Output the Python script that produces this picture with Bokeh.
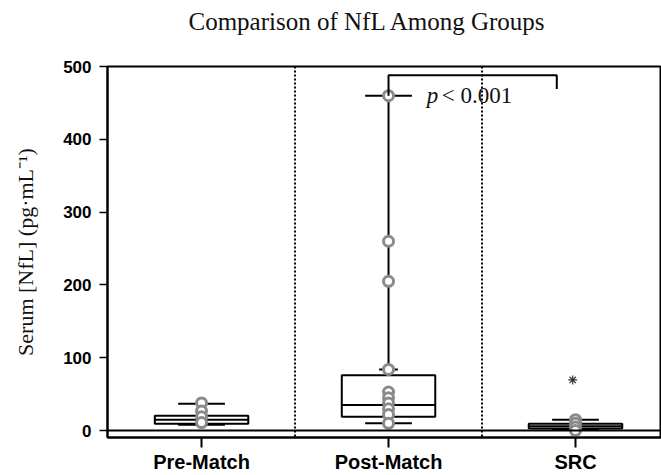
from bokeh.plotting import figure
from bokeh.models import FixedTicker, Span, Range1d, ColumnDataSource, Title
from bokeh.core.properties import value
from bokeh.embed import file_html
from bokeh.resources import INLINE

# ---- data ----
categories = ["Pre-Match", "Post-Match", "SRC"]
cat_pos = [0, 1, 2]
q1 = [9.5, 19, 3]
median = [15, 35, 6]
q3 = [20.5, 76, 9.5]
whisker_low = [8, 10, 1]
whisker_high = [37, 460, 15]

pre_points = [38, 27, 19, 11]
post_points = [460, 260, 205, 84, 53, 45, 38, 30, 22, 10]
src_points = [15, 10, 5, 0]
src_outlier = [69.5]

y_ticks = [0, 100, 200, 300, 400, 500]
p_text = "< 0.001"
bracket_y = 488
bracket_right_drop = 469

title = "Comparison of NfL Among Groups"
y_label = "Serum [NfL] (pg\u00b7mL\u207b\u00b9)"

SERIF = "Liberation Serif"
SANS = "Liberation Sans"

W, H = 661, 475
LEFT, TOP, BOTTOM = 107, 66, 35
p = figure(width=W, height=H, output_backend="svg", toolbar_location=None,
           x_range=Range1d(-0.503, 2.46), y_range=Range1d(-9.5, 500),
           min_border_left=LEFT, min_border_right=0, min_border_top=TOP, min_border_bottom=BOTTOM)

# spacer between frame and title, then the title itself
p.add_layout(Title(text=" ", text_font_size="22px", standoff=0), "above")
p.add_layout(Title(text=title, text_font=SERIF, text_font_size="25px", text_font_style="normal",
                   align="left", offset=81, text_color="#111111"), "above")

p.grid.visible = False
p.background_fill_color = "white"
p.border_fill_color = "white"
p.outline_line_color = "black"
p.outline_line_width = 2

# axes
p.xaxis.ticker = FixedTicker(ticks=cat_pos)
p.xaxis.major_label_overrides = {i: c for i, c in zip(cat_pos, categories)}
p.xaxis.major_label_text_font = SANS
p.xaxis.major_label_text_font_style = "bold"
p.xaxis.major_label_text_font_size = "20px"
p.xaxis.major_label_text_color = "black"
p.xaxis.major_tick_out = 10
p.xaxis.major_tick_in = 0
p.xaxis.minor_tick_line_color = None
p.xaxis.axis_line_width = 2
p.xaxis.major_tick_line_width = 2
p.xaxis.major_label_standoff = 3

p.yaxis.ticker = FixedTicker(ticks=y_ticks)
p.yaxis.major_label_text_font = SANS
p.yaxis.major_label_text_font_style = "bold"
p.yaxis.major_label_text_font_size = "17px"
p.yaxis.major_label_text_color = "black"
p.yaxis.major_tick_out = 8
p.yaxis.major_tick_in = 0
p.yaxis.minor_tick_line_color = None
p.yaxis.axis_line_width = 2
p.yaxis.major_tick_line_width = 1.5
p.yaxis.major_label_standoff = 8
p.yaxis.axis_label = y_label
p.yaxis.axis_label_text_font = SERIF
p.yaxis.axis_label_text_font_size = "22px"
p.yaxis.axis_label_text_font_style = "normal"
p.yaxis.axis_label_text_color = "#111111"
p.yaxis.axis_label_standoff = 22

# separators and zero line
for xs in [0.5, 1.5]:
    p.add_layout(Span(location=xs, dimension="height", line_color="black",
                      line_width=2, line_dash="2 2"))
p.add_layout(Span(location=0, dimension="width", line_color="black", line_width=2))

# whiskers
box_w = 0.5
cap_w = 0.25
src = ColumnDataSource(dict(x=cat_pos, q1=q1, q3=q3, med=median, lo=whisker_low, hi=whisker_high,
                            left=[c - box_w / 2 for c in cat_pos], right=[c + box_w / 2 for c in cat_pos],
                            cl=[c - cap_w / 2 for c in cat_pos], cr=[c + cap_w / 2 for c in cat_pos]))
p.segment(x0="x", y0="q3", x1="x", y1="hi", source=src, line_color="black", line_width=2)
p.segment(x0="x", y0="q1", x1="x", y1="lo", source=src, line_color="black", line_width=2)
p.segment(x0="cl", y0="hi", x1="cr", y1="hi", source=src, line_color="black", line_width=2)
p.segment(x0="cl", y0="lo", x1="cr", y1="lo", source=src, line_color="black", line_width=2)
# boxes
p.quad(left="left", right="right", bottom="q1", top="q3", source=src,
       fill_color="white", line_color="black", line_width=2)
p.segment(x0="left", y0="med", x1="right", y1="med", source=src, line_color="black", line_width=2)

# small tick at post-match point 84
p.segment(x0=[cat_pos[1] - 0.05], y0=[post_points[3]], x1=[cat_pos[1] + 0.05], y1=[post_points[3]],
          line_color="black", line_width=2)

# points
gray = "#8a8a8a"
for c, pts in zip(cat_pos, [pre_points, post_points, src_points]):
    p.scatter(x=[c] * len(pts), y=pts, size=10, marker="circle",
              fill_color="white", line_color=gray, line_width=3)

p.scatter(x=[cat_pos[2] - 0.015], y=src_outlier, marker="asterisk", size=9,
          line_color="#333333", line_width=1.2)

# bracket
bx0 = cat_pos[1]
bx1 = cat_pos[1] + 0.9
p.line(x=[bx0, bx0, bx1, bx1], y=[whisker_high[1], bracket_y, bracket_y, bracket_right_drop],
       line_color="black", line_width=2)

p.text(x=[bx0 + 0.205], y=[whisker_high[1]], text=["p"], text_font=value(SERIF),
       text_font_style="italic", text_font_size="23px", text_baseline="middle",
       text_align="left", text_color="#111111")
p.text(x=[bx0 + 0.205], y=[whisker_high[1]], x_offset=15, text=[p_text], text_font=value(SERIF),
       text_font_size="23px", text_baseline="middle", text_align="left", text_color="#111111")

open("out.html", "w").write(file_html(p, INLINE))
